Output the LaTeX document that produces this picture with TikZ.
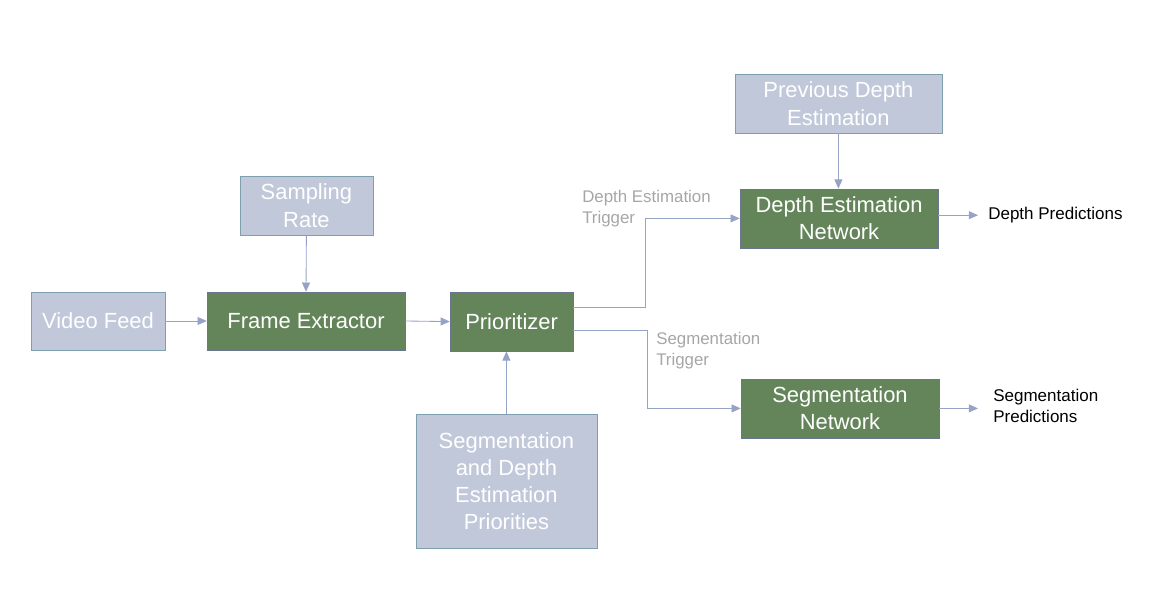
\documentclass[tikz,border=0pt]{standalone}
\usepackage{fontspec}
\setmainfont{Liberation Sans}
\usepackage{tikz}
\usetikzlibrary{arrows.meta}
\definecolor{inbox}{HTML}{C0C8DA}
\definecolor{inedge}{HTML}{7E9FAE}
\definecolor{netbox}{HTML}{64855A}
\definecolor{netedge}{HTML}{6A7590}
\definecolor{linkcol}{HTML}{97A3C6}
\definecolor{trigcol}{HTML}{A6A6A6}
\begin{document}
\begin{tikzpicture}[
  inputbox/.style={draw=inedge,fill=inbox,text=white,align=center,inner sep=0pt,
    font=\fontsize{15.6}{19.3}\selectfont},
  netblock/.style={draw=netedge,fill=netbox,text=white,align=center,inner sep=0pt,
    font=\fontsize{15.6}{19.3}\selectfont},
  link/.style={draw=linkcol,line width=0.6pt,-{Triangle[length=2.3mm,width=2mm]}},
  trigger/.style={text=trigcol,align=left,anchor=west,inner sep=0pt,
    font=\fontsize{12}{15}\selectfont},
  outlabel/.style={text=black,align=left,anchor=west,inner ysep=0pt,
    font=\fontsize{12.1}{15}\selectfont}]
\useasboundingbox (0,0) rectangle (28.825,15.2);
%\draw[help lines] (0,0) grid (28,15);
\node(video) at (2.45,7.175)[inputbox,minimum width=3.35cm,minimum height=1.45cm] {Video Feed};
\node(frame) at (7.65,7.175)[netblock,minimum width=4.95cm,minimum height=1.45cm] {Frame Extractor};
\node(sampling) at (7.66,10.06)[inputbox,minimum width=3.325cm,minimum height=1.475cm] {Sampling\\Rate};
\node(prio) at (12.79,7.16)[netblock,minimum width=3.075cm,minimum height=1.475cm] {Prioritizer};
\node(priorities) at (12.66,3.175)[inputbox,minimum width=4.525cm,minimum height=3.35cm] {Segmentation\\and Depth\\Estimation\\Priorities};
\node(prevdepth) at (20.96,12.61)[inputbox,minimum width=5.175cm,minimum height=1.475cm] {Previous Depth\\Estimation};
\node(depthnet) at (20.975,9.74)[netblock,minimum width=4.95cm,minimum height=1.475cm] {Depth Estimation\\Network};
\node(segnet) at (21.0,4.99)[netblock,minimum width=4.95cm,minimum height=1.475cm] {Segmentation\\Network};
\node(depthout) at (24.45,9.82)[outlabel,inner xsep=0.25cm] {Depth Predictions};
\node(segout) at (24.45,5.05)[outlabel,inner xsep=0.375cm] {Segmentation\\Predictions};
\node(depthtrig) at (14.55,9.99)[trigger] {Depth Estimation\\Trigger};
\node(segtrig) at (16.4,6.44)[trigger] {Segmentation\\Trigger};
\draw[link] (video.east) -- (frame.west);
\draw[link] (sampling.south) -- (frame.north);
\draw[link] (frame.east) -- (prio.west);
\draw[link] (priorities.north) -- (priorities.north |- prio.south);
\draw[link] (prevdepth.south) -- (prevdepth.south |- depthnet.north);
\draw[link] ([yshift=0.36cm]prio.east) -- ++(1.8,0) |- (depthnet.west);
\draw[link] ([yshift=-0.21cm]prio.east) -- ++(1.85,0) |- (segnet.west);
\draw[link] ([yshift=0.08cm]depthnet.east) -- ([yshift=0.08cm]depthnet.east -| depthout.west);
\draw[link] (segnet.east) -- (segnet.east -| segout.west);
\end{tikzpicture}
\end{document}
